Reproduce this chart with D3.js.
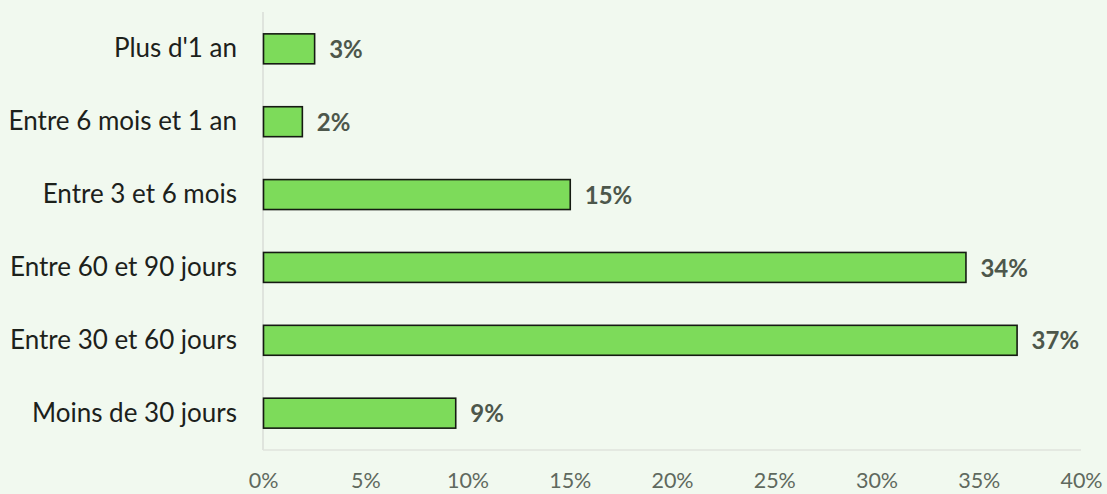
<!DOCTYPE html>
<html><head><meta charset="utf-8">
<script src="https://cdn.jsdelivr.net/npm/d3@7"></script>
<style>html,body{margin:0;padding:0;background:#f1f9ef;}svg{display:block;}</style>
</head><body>
<svg id="c" width="1107" height="494"></svg>
<script>
const categories = ["Plus d'1 an","Entre 6 mois et 1 an","Entre 3 et 6 mois","Entre 60 et 90 jours","Entre 30 et 60 jours","Moins de 30 jours"];
const values = [2.5, 1.9, 15.0, 34.35, 36.85, 9.4];
const valueLabels = ["3%","2%","15%","34%","37%","9%"];
const ticks = [0,5,10,15,20,25,30,35,40];

(function(){
const svg = d3.select("#c");
const mLeft = 263, mRight = 1081, mTop = 12, mBottom = 450;
const x = d3.scaleLinear().domain([0,40]).range([mLeft,mRight]);
const y = d3.scaleBand().domain(categories).range([mTop,mBottom]).paddingInner(0.589).paddingOuter(0.3);
const font = "Lato, 'Open Sans', sans-serif";

svg.append("rect").attr("width",1107).attr("height",494).attr("fill","#f1f9ef");

svg.append("line").attr("x1",mLeft).attr("x2",mLeft).attr("y1",mTop).attr("y2",mBottom).attr("stroke","#d9ddd7").attr("stroke-width",1.5);
svg.append("line").attr("x1",mLeft).attr("x2",mRight).attr("y1",mBottom).attr("y2",mBottom).attr("stroke","#dfe3dd").attr("stroke-width",1.5);

svg.selectAll("rect.bar").data(categories).enter().append("rect")
  .attr("class","bar")
  .attr("x",x(0)+0.5)
  .attr("y",d=>y(d))
  .attr("width",(d,i)=>x(values[i])-x(0))
  .attr("height",y.bandwidth())
  .attr("fill","#7ddb5a").attr("stroke","#151a12").attr("stroke-width",1.6);

svg.selectAll("text.val").data(categories).enter().append("text")
  .attr("x",(d,i)=>x(values[i])+15)
  .attr("y",d=>y(d)+y.bandwidth()/2+3)
  .attr("dominant-baseline","middle")
  .attr("font-family",font).attr("font-weight","bold").attr("font-size",24)
  .attr("fill","#4d574b")
  .text((d,i)=>valueLabels[i]);

svg.selectAll("text.cat").data(categories).enter().append("text")
  .attr("x",237)
  .attr("y",d=>y(d)+y.bandwidth()/2+2)
  .attr("text-anchor","end").attr("dominant-baseline","middle")
  .attr("font-family",font).attr("font-size",26)
  .attr("fill","#1c211b")
  .text(d=>d);

const xAxis = d3.axisBottom(x).tickValues(ticks).tickFormat(d=>d+"%").tickSize(0).tickPadding(0);
const g = svg.append("g").attr("transform",`translate(0,${mBottom})`).call(xAxis);
g.select(".domain").remove();
g.selectAll("text").attr("y",33).attr("dy",0).attr("dominant-baseline","middle")
  .attr("font-family",font).attr("font-size",21.5).attr("fill","#5f695e");
})();
</script>
</body></html>
